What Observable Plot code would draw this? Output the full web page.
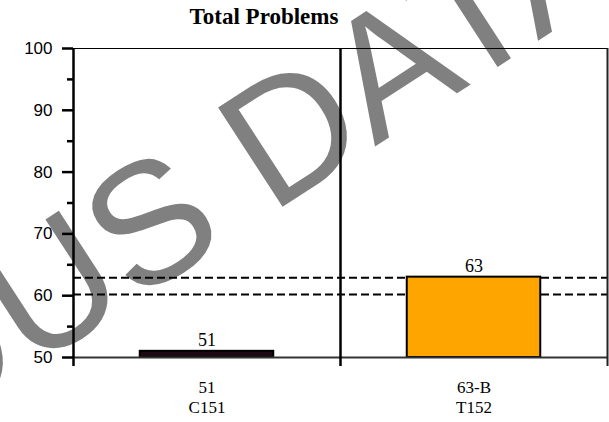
<!DOCTYPE html>
<html>
<head>
<meta charset="utf-8">
<script src="https://cdn.jsdelivr.net/npm/d3@7"></script>
<script src="https://cdn.jsdelivr.net/npm/@observablehq/plot@0.6"></script>
<style>
  html, body { margin: 0; padding: 0; background: #fff; }
  #wrap { position: relative; width: 609px; height: 422px; overflow: hidden; }
  #title { position: relative; z-index: 2; width: 528px; height: 36px; text-align: center;
           font-family: "Liberation Serif", "Times New Roman", serif; font-weight: bold;
           font-size: 23px; line-height: 34px; }
  #chart { position: relative; z-index: 1; }
</style>
</head>
<body>
<div id="wrap">
  <div id="title">Total Problems</div>
  <div id="chart"></div>
</div>
<script>
// ---- data ----
const categories = ["C151", "T152"];
const scoreLabels = ["51", "63-B"];
const scores = [51, 63];
const barColors = ["#1e0814", "#FFA500"];
const cutoffs = [60.2, 62.9];
const yMin = 50, yMax = 100;
const majorTicks = [50, 60, 70, 80, 90, 100];
const minorTicks = [55, 65, 75, 85, 95];
const watermark = ["PREVIOUS DATA"];

const rows = categories.map((c, i) => ({
  i, category: c, score: scores[i], label: scoreLabels[i], color: barColors[i]
}));
const boundaries = d3.range(categories.length + 1).map(k => k - 0.5);

const serif = "Liberation Serif, Times New Roman, serif";
const sans = "Liberation Sans, Arial, sans-serif";

const chart = Plot.plot({
  width: 609,
  height: 386,
  marginLeft: 73,
  marginRight: 2,
  marginTop: 12,
  marginBottom: 65,
  style: { overflow: "visible", background: "transparent", fontFamily: sans },
  x: { type: "linear", domain: [-0.5, categories.length - 0.5], axis: null },
  y: { domain: [yMin, yMax], axis: null },
  marks: [
    // watermark (behind everything)
    Plot.text(watermark, {
      text: d => d, frameAnchor: "bottom-left", dx: -14, dy: -6,
      textAnchor: "middle", lineAnchor: "bottom", rotate: -33,
      fontSize: 172, fill: "#808080", fontFamily: sans
    }),
    // top frame line
    Plot.ruleY([yMax], { stroke: "#000", strokeWidth: 1 }),
    // cutoff dashed lines
    Plot.ruleY(cutoffs, { stroke: "#000", strokeWidth: 2, strokeDasharray: "8,4" }),
    // bars
    Plot.rectY(rows, {
      x1: d => d.i - 0.25, x2: d => d.i + 0.25, y1: yMin, y2: "score",
      fill: "color", stroke: "#000", strokeWidth: 2
    }),
    // bottom axis line
    Plot.ruleY([yMin], { stroke: "#333", strokeWidth: 2 }),
    // category boundaries (left axis, divider, right border)
    Plot.ruleX(boundaries, {
      y1: yMax, y2: yMin, insetBottom: -9,
      stroke: (d, k) => (k === boundaries.length - 1 ? "#222" : "#000"),
      strokeWidth: (d, k) => (k === boundaries.length - 1 ? 2 : 2.5)
    }),
    // y axis ticks
    Plot.axisY(majorTicks, {
      ticks: majorTicks, tickSize: 11, tickPadding: 10, strokeWidth: 2.5,
      fontSize: 17, fill: "#000", fontFamily: sans, label: null
    }),
    Plot.axisY(minorTicks, {
      ticks: minorTicks, tickSize: 6, strokeWidth: 2.5, tickFormat: () => "", label: null
    }),
    // value labels above bars
    Plot.text(rows, {
      x: "i", y: "score", text: d => String(d.score), dy: -5, lineAnchor: "bottom",
      fontSize: 18, fontFamily: serif, fill: "#000"
    }),
    // category labels
    Plot.text(rows, {
      x: "i", y: yMin, text: d => d.label + "\n" + d.category, dy: 21, lineAnchor: "top",
      lineHeight: 1.2, fontSize: 17, fontFamily: serif, fill: "#000"
    })
  ]
});
document.getElementById("chart").appendChild(chart);
</script>
</body>
</html>
